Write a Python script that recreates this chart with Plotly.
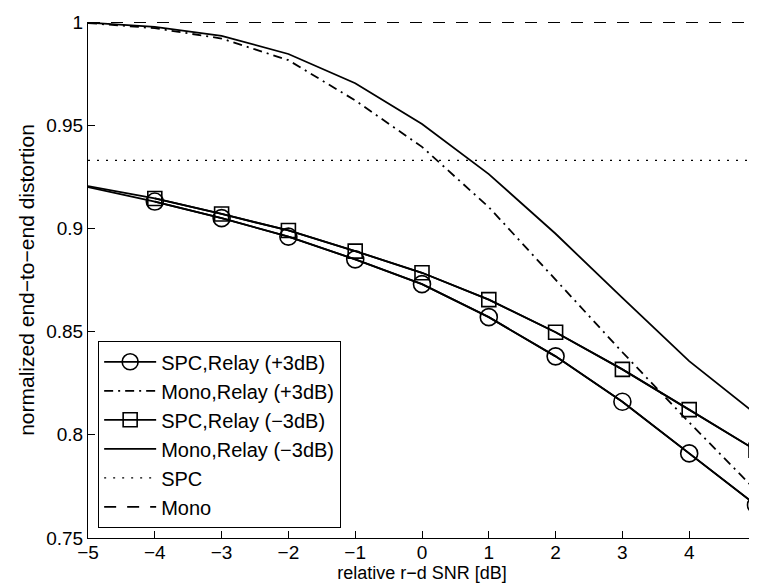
import plotly.graph_objects as go

x_snr = [-5, -4, -3, -2, -1, 0, 1, 2, 3, 4, 5]
spc_relay_p3 = [0.920, 0.913, 0.905, 0.896, 0.885, 0.873, 0.857, 0.838, 0.816, 0.791, 0.766]
mono_relay_p3 = [0.9995, 0.9970, 0.9920, 0.9815, 0.9620, 0.9395, 0.9103, 0.875, 0.840, 0.806, 0.773]
spc_relay_m3 = [0.9205, 0.9145, 0.907, 0.899, 0.889, 0.8785, 0.8655, 0.8497, 0.8317, 0.8122, 0.7925]
mono_relay_m3 = [0.9997, 0.9976, 0.9933, 0.9845, 0.9703, 0.9506, 0.9263, 0.8974, 0.8663, 0.8357, 0.810]
spc_level = 0.933
mono_level = 1.0

y_ticks = [0.75, 0.8, 0.85, 0.9, 0.95, 1.0]
y_tick_text = ["0.75", "0.8", "0.85", "0.9", "0.95", "1"]
x_ticks = [-5, -4, -3, -2, -1, 0, 1, 2, 3, 4, 5]

FONT = "Liberation Sans, Arial, sans-serif"
LW = 1.8

fig = go.Figure()

def marked_series(name, y, symbol, size):
    # full line (no marker at the first point)
    fig.add_trace(go.Scatter(x=x_snr, y=y, mode="lines", showlegend=False,
                             line=dict(color="black", width=LW), hoverinfo="skip"))
    fig.add_trace(go.Scatter(x=x_snr[1:], y=y[1:], mode="lines+markers", name=name,
                             line=dict(color="black", width=LW),
                             marker=dict(symbol=symbol, size=size, color="black",
                                         line=dict(color="black", width=1.6))))

marked_series("SPC,Relay (+3dB)", spc_relay_p3, "circle-open", 17)
fig.add_trace(go.Scatter(x=x_snr, y=mono_relay_p3, mode="lines", name="Mono,Relay (+3dB)",
                         line=dict(color="black", width=LW, dash="9px,5px,2px,5px")))
marked_series("SPC,Relay (\u22123dB)", spc_relay_m3, "square-open", 14)
fig.add_trace(go.Scatter(x=x_snr, y=mono_relay_m3, mode="lines", name="Mono,Relay (\u22123dB)",
                         line=dict(color="black", width=LW)))
fig.add_trace(go.Scatter(x=[x_snr[0], x_snr[-1]], y=[spc_level, spc_level], mode="lines", name="SPC",
                         line=dict(color="black", width=1.2, dash="2px,7px")))
fig.add_trace(go.Scatter(x=[x_snr[0], x_snr[-1]], y=[mono_level, mono_level], mode="lines", name="Mono",
                         line=dict(color="black", width=LW, dash="12px,11px")))

fig.update_layout(
    width=757, height=586,
    margin=dict(l=80, r=4, t=10, b=56),
    paper_bgcolor="white", plot_bgcolor="white",
    font=dict(family=FONT, size=19, color="black"),
    showlegend=True,
    legend=dict(x=0.0149, y=0.0192, xanchor="left", yanchor="bottom",
                bgcolor="white", bordercolor="black", borderwidth=1.2,
                font=dict(family=FONT, size=20, color="black"),
                itemwidth=52, tracegroupgap=0),
)
fig.update_xaxes(range=[-5, 5], tickvals=x_ticks, ticks="inside", ticklen=7, tickwidth=1,
                 tickcolor="black", showline=True, linecolor="black", linewidth=1,
                 showgrid=False, zeroline=False, mirror=False, ticklabeloverflow="allow",
                 ticklabelstandoff=-3,
                 title=dict(text="relative r\u2212d SNR [dB]", standoff=0,
                            font=dict(family=FONT, size=18)),
                 tickfont=dict(family=FONT, size=19))
fig.update_yaxes(range=[0.75, 1.0], tickvals=y_ticks, ticktext=y_tick_text, ticks="inside",
                 ticklen=7, tickwidth=1, tickcolor="black", showline=True, linecolor="black",
                 linewidth=1, showgrid=False, zeroline=False, mirror=False, ticklabeloverflow="allow",
                 title=dict(text="normalized end\u2212to\u2212end distortion", standoff=5,
                            font=dict(family=FONT, size=21)),
                 tickfont=dict(family=FONT, size=19))

fig.write_html("out.html")
